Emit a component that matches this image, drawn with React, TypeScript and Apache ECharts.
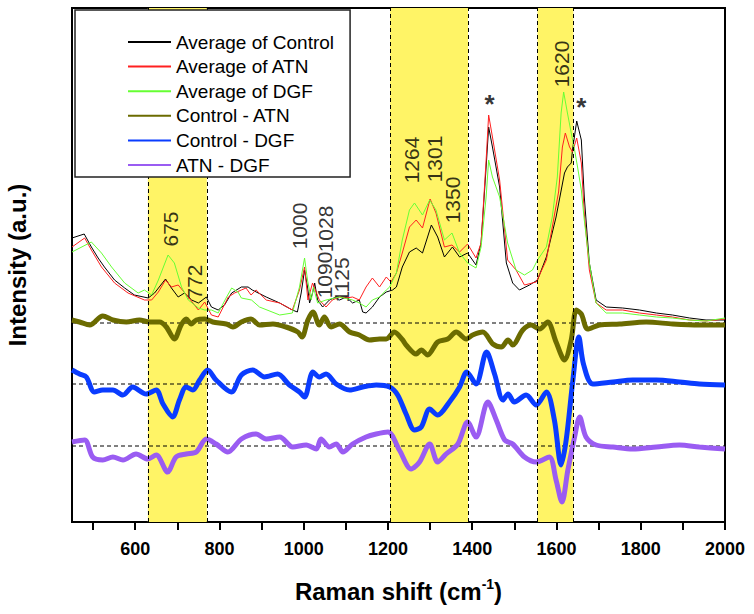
import React, { useEffect, useRef } from "react";
import * as echarts from "echarts";

const FONT = "'Liberation Sans', Arial, sans-serif";

const xMin = 450;
const xMax = 2000;
const yMin = 0;
const yMax = 514;

const xTickValues = [500, 600, 700, 800, 900, 1000, 1100, 1200, 1300, 1400, 1500, 1600, 1700, 1800, 1900, 2000];
const xLabelValues = [600, 800, 1000, 1200, 1400, 1600, 1800, 2000];

const seriesNames = ["Average of Control", "Average of ATN", "Average of DGF", "Control - ATN", "Control - DGF", "ATN - DGF"];

const controlAvg: [number, number][] = [[450,284],[479,288],[496,275],[512,264],[527,255],[551,242],[575,234],[598,227],[631,224],[646,229],[672,243],[686,234],[702,225],[717,229],[734,222],[750,219],[769,225],[781,215],[797,212],[812,217],[829,229],[852,235],[868,235],[878,232],[911,225],[943,219],[973,212],[985,210],[994,229],[1002,252],[1009,235],[1014,219],[1021,229],[1026,239],[1033,222],[1045,215],[1061,222],[1077,225],[1085,222],[1101,225],[1116,219],[1132,222],[1140,210],[1148,209],[1163,215],[1180,225],[1196,230],[1211,232],[1220,235],[1234,255],[1251,270],[1267,274],[1282,269],[1303,297],[1318,285],[1334,265],[1353,275],[1370,265],[1389,269],[1409,257],[1421,279],[1433,355],[1439,395],[1448,375],[1465,335],[1481,259],[1496,239],[1512,232],[1536,237],[1555,242],[1576,265],[1599,305],[1619,349],[1626,355],[1635,359],[1638,372],[1648,401],[1659,382],[1666,325],[1678,259],[1694,222],[1718,215],[1757,214],[1797,212],[1837,209],[1875,207],[1916,204],[1955,202],[2000,202]];

const atnAvg: [number, number][] = [[450,275],[480,284],[496,272],[520,255],[551,239],[583,229],[622,222],[639,222],[655,230],[672,242],[686,235],[702,237],[726,225],[750,212],[765,220],[781,207],[797,205],[821,225],[836,229],[852,232],[863,234],[875,227],[887,232],[911,222],[943,219],[973,212],[990,232],[1002,255],[1010,222],[1021,239],[1037,222],[1053,215],[1068,222],[1085,225],[1101,224],[1116,225],[1132,222],[1148,235],[1163,244],[1180,235],[1196,245],[1207,240],[1220,249],[1234,269],[1251,295],[1267,302],[1282,294],[1300,323],[1314,309],[1334,275],[1352,277],[1370,270],[1389,278],[1409,264],[1421,279],[1433,362],[1439,407],[1448,385],[1465,342],[1484,262],[1504,252],[1524,237],[1552,240],[1576,262],[1590,295],[1605,330],[1614,375],[1621,389],[1631,375],[1638,370],[1648,384],[1659,359],[1666,309],[1678,252],[1694,219],[1718,212],[1757,212],[1797,209],[1837,207],[1875,205],[1916,202],[1955,201],[2000,203]];

const dgfAvg: [number, number][] = [[450,270],[496,280],[520,269],[544,255],[575,239],[607,229],[622,232],[639,227],[655,242],[678,267],[693,259],[710,235],[726,222],[750,214],[765,212],[781,212],[797,209],[817,225],[829,234],[844,230],[852,224],[876,222],[895,215],[943,207],[973,209],[990,235],[1002,264],[1009,242],[1018,222],[1023,235],[1033,219],[1053,222],[1085,225],[1116,222],[1132,219],[1148,215],[1163,222],[1180,225],[1196,232],[1204,235],[1220,249],[1234,282],[1251,312],[1263,319],[1282,307],[1299,322],[1314,312],[1334,282],[1352,289],[1370,269],[1389,259],[1409,254],[1421,275],[1433,325],[1439,362],[1448,345],[1465,325],[1484,279],[1504,252],[1524,247],[1543,252],[1555,262],[1576,275],[1590,305],[1602,345],[1611,409],[1617,430],[1626,409],[1635,389],[1643,372],[1650,355],[1659,332],[1666,302],[1678,259],[1694,219],[1718,209],[1757,209],[1797,207],[1837,205],[1875,204],[1916,202],[1955,201],[2000,204]];

// Difference spectra (deviation from their own baseline)
const diffControlATN: [number, number][] = [[450,3],[468,1],[492,-2],[523,7],[547,3],[579,1],[610,3],[634,1],[658,1],[674,-4],[693,-16],[709,-2],[721,4],[733,-1],[745,3],[765,4],[784,1],[816,-1],[832,-4],[852,1],[875,4],[895,-2],[927,-1],[958,-4],[986,-9],[996,-14],[1010,3],[1022,11],[1037,-2],[1049,6],[1065,-4],[1085,-1],[1109,-9],[1132,-12],[1156,-17],[1180,-16],[1196,-16],[1215,-9],[1235,-17],[1243,-22],[1267,-31],[1279,-27],[1294,-32],[1318,-19],[1342,-16],[1362,-9],[1386,-16],[1401,-12],[1425,-9],[1449,-21],[1469,-24],[1485,-17],[1496,-22],[1520,-7],[1540,-2],[1560,-6],[1579,1],[1599,-19],[1619,-37],[1635,-17],[1647,13],[1659,9],[1674,-6],[1702,-2],[1750,-1],[1813,1],[1876,-1],[1939,-2],[2000,-2]];

const diffControlDGF: [number, number][] = [[450,14],[468,10],[484,7],[503,-8],[523,-6],[547,-6],[571,-11],[594,-3],[626,-10],[650,-6],[666,-20],[689,-33],[705,-16],[721,-3],[737,-6],[753,4],[772,14],[792,4],[828,-8],[852,9],[879,14],[907,7],[938,10],[966,-1],[990,-8],[1002,-13],[1022,12],[1037,7],[1053,10],[1077,0],[1109,-6],[1140,-3],[1172,-1],[1204,-3],[1223,-11],[1243,-30],[1263,-46],[1279,-43],[1299,-25],[1318,-31],[1346,-18],[1370,-3],[1387,12],[1409,0],[1434,32],[1453,10],[1473,-16],[1485,-10],[1500,-18],[1528,-11],[1552,-21],[1576,-8],[1595,-36],[1611,-81],[1623,-56],[1639,4],[1653,47],[1664,20],[1686,0],[1734,2],[1781,4],[1837,4],[1892,2],[1939,0],[2000,-1]];

const diffATNDGF: [number, number][] = [[450,4],[480,6],[499,-11],[523,-14],[547,-11],[571,-14],[602,-8],[630,-13],[650,-9],[677,-26],[697,-11],[721,-8],[745,-6],[769,7],[792,2],[820,-6],[852,7],[887,12],[911,7],[943,9],[974,-1],[1006,1],[1030,-3],[1041,7],[1061,-1],[1077,2],[1093,-6],[1116,2],[1148,9],[1172,12],[1200,14],[1227,-4],[1255,-23],[1275,-16],[1299,2],[1318,-16],[1338,-8],[1366,2],[1389,24],[1409,9],[1437,44],[1457,26],[1477,6],[1496,2],[1524,-11],[1552,-16],[1583,-11],[1599,-34],[1613,-56],[1627,-24],[1643,9],[1655,29],[1670,9],[1694,1],[1734,-1],[1781,-3],[1837,-1],[1892,1],[1939,-1],[2000,-3]];

const diffOffsets = [199, 138, 76];

const bandStarts = [630, 1205, 1555];
const bandEnds = [770, 1390, 1640];

const peakLabels = ["675", "772", "1000", "1028", "1090", "1125", "1264", "1301", "1350", "1620"];
const peakLabelX = [683, 741, 991, 1051, 1049, 1090, 1256, 1310, 1352, 1611];
const peakLabelY = [293, 240, 296, 293, 247, 242, 362, 363, 322, 458];

const starX = [1441, 1659];
const starY = [418, 415];

const lineColors = ["#000000", "#ff2020", "#66ff33", "#6b6b00", "#0a3cff", "#9a5cf2"];

export default function App() {
  const ref = useRef<HTMLDivElement>(null);
  useEffect(() => {
    if (!ref.current) return;
    const chart = echarts.init(ref.current, null, { renderer: "svg" });
    const spectra = [controlAvg, atnAvg, dgfAvg];
    const diffs = [diffControlATN, diffControlDGF, diffATNDGF];

    const series: any[] = [];
    series.push({
      name: "bands",
      type: "line",
      data: [],
      silent: true,
      markArea: {
        silent: true,
        itemStyle: { color: "#fff466" },
        data: bandStarts.map((s, i) => [{ xAxis: s }, { xAxis: bandEnds[i] }]),
      },
      markLine: {
        silent: true,
        symbol: "none",
        label: { show: false },
        lineStyle: { color: "#000", type: [4, 3], width: 1 },
        data: [...bandStarts, ...bandEnds].map((v) => ({ xAxis: v })),
      },
    });
    diffOffsets.forEach((off, i) => {
      series.push({
        name: "baseline" + i,
        type: "line",
        silent: true,
        symbol: "none",
        data: [[xMin, off], [xMax, off]],
        lineStyle: { color: "#000", type: [4, 3], width: 1 },
      });
    });
    spectra.forEach((d, i) => {
      series.push({
        name: seriesNames[i],
        type: "line",
        symbol: "none",
        data: d,
        lineStyle: { color: lineColors[i], width: 1 },
        itemStyle: { color: lineColors[i] },
      });
    });
    diffs.forEach((d, i) => {
      series.push({
        name: seriesNames[3 + i],
        type: "line",
        symbol: "none",
        smooth: 0.3,
        data: d.map(([x, y]) => [x, y + diffOffsets[i]]),
        lineStyle: { color: lineColors[3 + i], width: 5 },
        itemStyle: { color: lineColors[3 + i] },
      });
    });
    series.push({
      name: "peaks",
      type: "scatter",
      symbolSize: 0,
      silent: true,
      data: peakLabels.map((t, i) => ({ name: t, value: [peakLabelX[i], peakLabelY[i]] })),
      label: {
        show: true,
        position: "inside",
        formatter: "{b}",
        rotate: 90,
        fontSize: 21,
        color: "#000",
        fontFamily: FONT,
      },
    });
    series.push({
      name: "stars",
      type: "scatter",
      symbolSize: 0,
      silent: true,
      data: starX.map((x, i) => ({ name: "*", value: [x, starY[i]] })),
      label: {
        show: true,
        position: "inside",
        formatter: "*",
        fontSize: 26,
        fontWeight: "bold",
        color: "#000",
        fontFamily: FONT,
      },
    });

    const option: any = {
      animation: false,
      backgroundColor: "#fff",
      grid: {
        left: 72,
        right: 29,
        top: 8,
        bottom: 92,
        outerBoundsMode: "none",
        show: true,
        borderColor: "#000",
        borderWidth: 2,
        backgroundColor: "transparent",
      },
      legend: {
        data: seriesNames,
        orient: "vertical",
        left: 75,
        top: 10,
        padding: [20, 16, 0, 52],
        itemWidth: 43,
        itemHeight: 14,
        itemGap: 0.6,
        backgroundColor: "#fff",
        borderColor: "#222",
        borderWidth: 1.5,
        selectedMode: false,
        z: 10,
        itemStyle: { opacity: 0 },
        textStyle: { fontSize: 19, color: "#000", fontFamily: FONT, lineHeight: 24 },
      },
      xAxis: {
        type: "value",
        min: xMin,
        max: xMax,
        name: "{a|Raman shift (cm}{s|-1}{a|)}",
        nameLocation: "middle",
        nameGap: 55,
        nameTextStyle: {
          color: "#000",
          rich: {
            a: { fontSize: 24, fontWeight: "bold", color: "#000", fontFamily: FONT },
            s: { fontSize: 14, fontWeight: "bold", color: "#000", fontFamily: FONT, padding: [0, 0, 14, 0] },
          },
        },
        axisLine: { lineStyle: { color: "#000", width: 2 } },
        axisTick: { show: true, length: 8, inside: false, customValues: xTickValues, lineStyle: { color: "#000", width: 2 } },
        axisLabel: {
          customValues: xLabelValues,
          formatter: (v: number) => String(v),
          fontSize: 18,
          fontWeight: "bold",
          color: "#000",
          fontFamily: FONT,
          margin: 18,
        },
        splitLine: { show: false },
      },
      yAxis: {
        type: "value",
        min: yMin,
        max: yMax,
        name: "Intensity (a.u.)",
        nameLocation: "middle",
        nameGap: 43,
        nameTextStyle: { fontSize: 24, fontWeight: "bold", color: "#000", fontFamily: FONT },
        axisLine: { show: true, lineStyle: { color: "#000", width: 2 } },
        axisTick: { show: false },
        axisLabel: { show: false },
        splitLine: { show: false },
      },
      series,
    };
    chart.setOption(option);
    return () => chart.dispose();
  }, []);
  return (
    <div
      ref={ref}
      style={{ position: "absolute", left: 0, top: 0, width: 754, height: 614, background: "#fff" }}
    />
  );
}
